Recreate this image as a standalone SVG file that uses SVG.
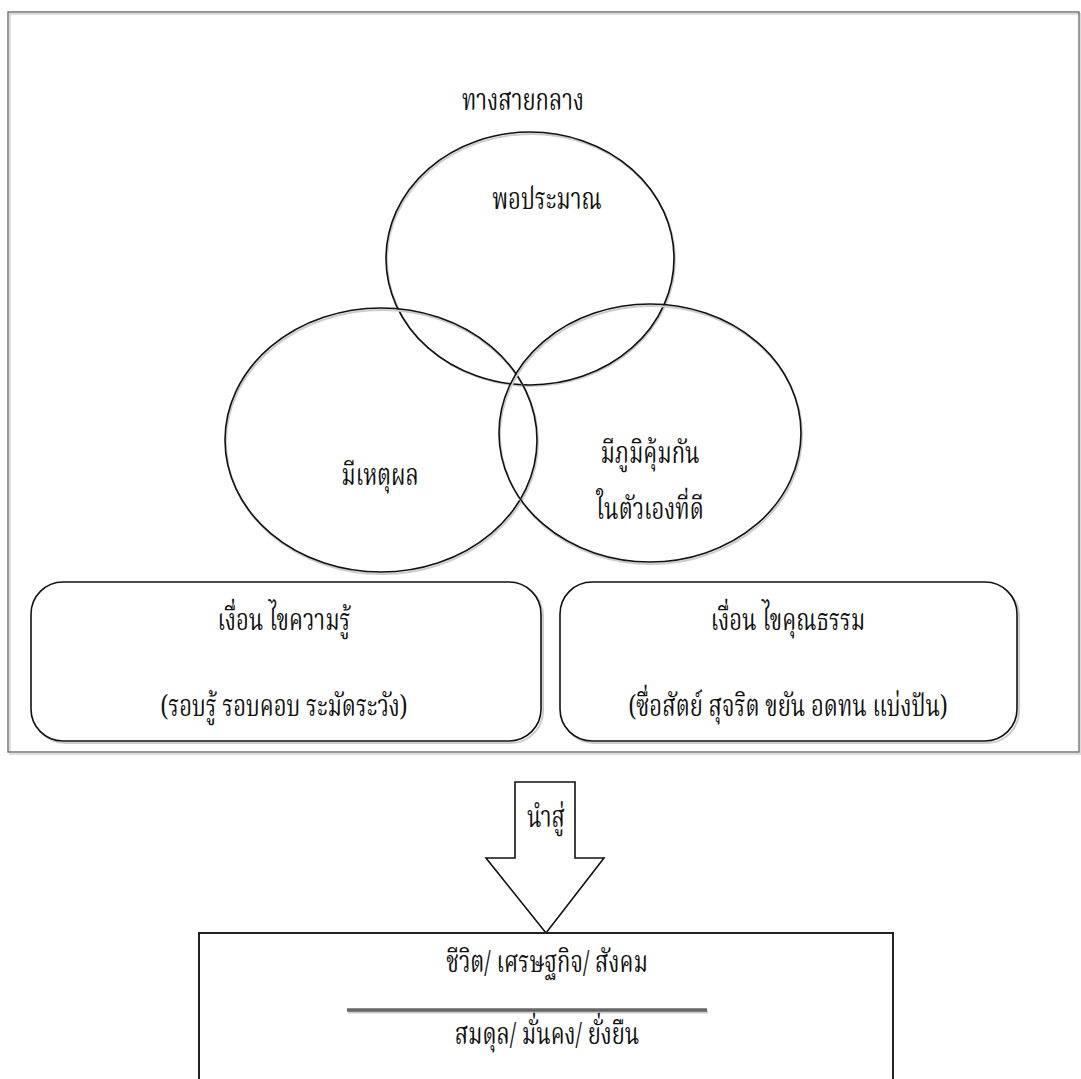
<svg xmlns="http://www.w3.org/2000/svg" width="1081" height="1079" viewBox="0 0 1081 1079">
<style>
text{font-family:"Noto Serif Thai","Noto Sans Thai","DejaVu Sans","Liberation Serif",serif;font-size:22px;fill:#111;text-anchor:middle}
.c{fill:none;stroke:#111;stroke-width:1.6}
.sh{fill:none;stroke:#ccc;stroke-width:2}
.b{fill:#fff;stroke:#111;stroke-width:1.6}
</style>
<rect width="1081" height="1079" fill="#fff"/>
<g id="frame">
<rect x="10" y="14" width="1071" height="740" fill="none" stroke="#ddd" stroke-width="2"/>
<rect x="8" y="12" width="1071" height="740" fill="none" stroke="#777" stroke-width="1.5"/>
</g>
<text id="title" transform="translate(523,110) scale(1,1.35)">ทางสายกลาง</text>
<g id="c-top">
<ellipse cx="531" cy="260" rx="144" ry="126" class="sh"/>
<ellipse cx="530" cy="258.5" rx="144" ry="126.5" class="c"/>
<text transform="translate(547,209) scale(1,1.35)">พอประมาณ</text>
</g>
<g id="c-left">
<ellipse cx="382" cy="442" rx="156" ry="132" class="sh"/>
<ellipse cx="381" cy="440" rx="156" ry="132" class="c"/>
<text transform="translate(380,485) scale(1,1.35)">มีเหตุผล</text>
</g>
<g id="c-right">
<ellipse cx="651" cy="435" rx="151" ry="129" class="sh"/>
<ellipse cx="650" cy="433" rx="151" ry="129" class="c"/>
<text transform="translate(650,463) scale(1,1.35)">มีภูมิคุ้มกัน</text>
<text transform="translate(650,519) scale(1,1.35)">ในตัวเองที่ดี</text>
</g>
<g id="box-knowledge">
<rect x="33" y="584" width="510" height="159" rx="32" class="sh"/>
<rect x="31" y="582" width="510" height="159" rx="32" class="b"/>
<text transform="translate(284,630) scale(1,1.35)">เงื่อน ไขความรู้</text>
<text transform="translate(284,716) scale(1,1.35)">(รอบรู้ รอบคอบ ระมัดระวัง)</text>
</g>
<g id="box-moral">
<rect x="562" y="584" width="457" height="159" rx="32" class="sh"/>
<rect x="560" y="582" width="457" height="159" rx="32" class="b"/>
<text transform="translate(788,630) scale(1,1.35)">เงื่อน ไขคุณธรรม</text>
<text transform="translate(788,716) scale(1,1.35)">(ซื่อสัตย์ สุจริต ขยัน อดทน แบ่งปัน)</text>
</g>
<g id="connectors">
<path d="M515,782 H575 V858 H604 L546,933 L486,858 H515 Z" fill="#fff" stroke="#111" stroke-width="1.6"/>
<text transform="translate(546,827) scale(1,1.35)">นำสู่</text>
</g>
<g id="box-result">
<rect x="199" y="933" width="694" height="160" fill="#fff" stroke="#222" stroke-width="2"/>
<text transform="translate(547,972) scale(1,1.35)">ชีวิต/  เศรษฐกิจ/ สังคม</text>
<line x1="348" y1="1012" x2="708" y2="1012" stroke="#ccc" stroke-width="3"/>
<line x1="347" y1="1010" x2="707" y2="1010" stroke="#666" stroke-width="3.5"/>
<text transform="translate(547,1044) scale(1,1.35)">สมดุล/ มั่นคง/  ยั่งยืน</text>
</g>
</svg>
